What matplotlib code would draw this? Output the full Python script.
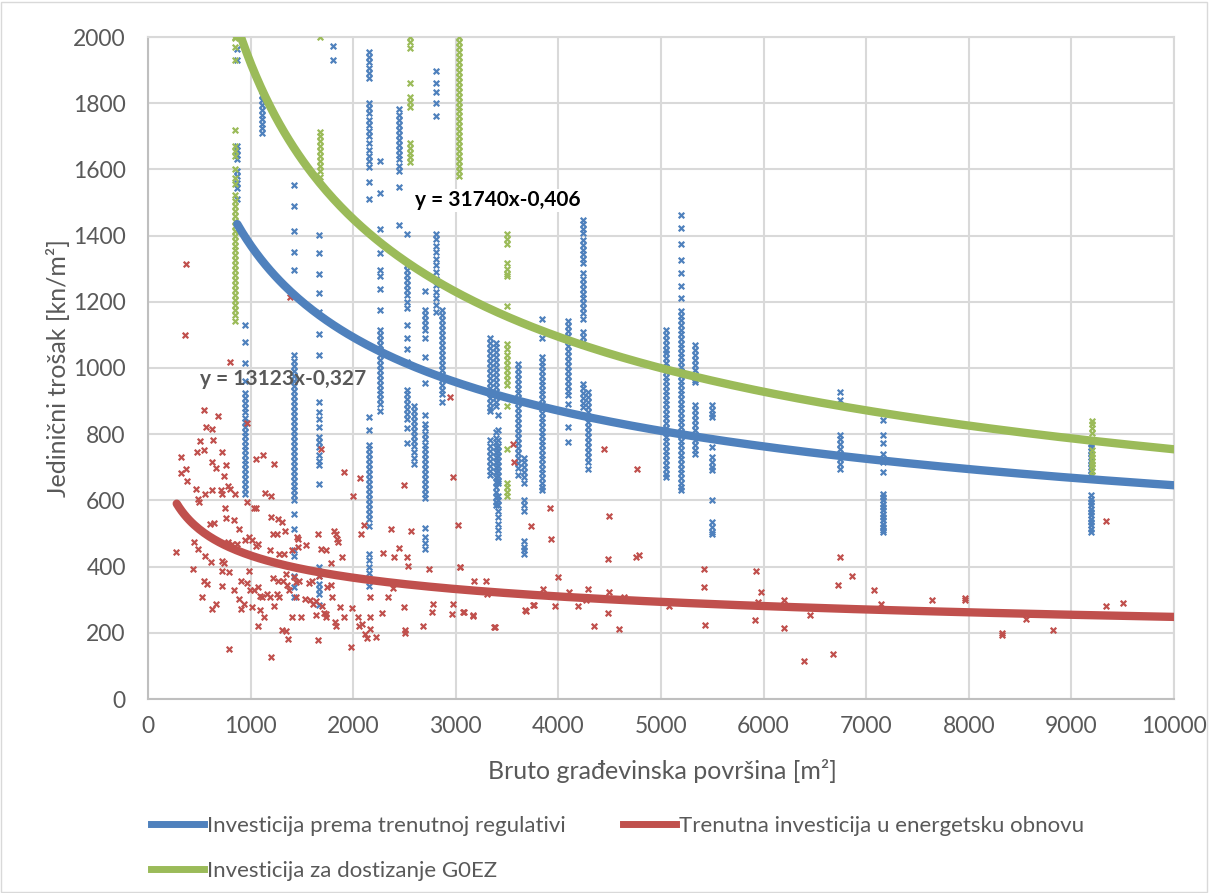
import numpy as np
import matplotlib
matplotlib.use("Agg")
import matplotlib.pyplot as plt
from matplotlib.lines import Line2D
from matplotlib.patches import Rectangle

plt.rcParams['font.family'] = ['Lato', 'DejaVu Sans']

# --- data ---
# blue: "Investicija prema trenutnoj regulativi" -> vertical columns (x, list of y)
blue_cols = [
    (870, [1964, 1932, 1671, 1660, 1645, 1632, 1594, 1580, 1560, 1545, 1510]),
    (945, [1129, 1080, 1016, 961, 923, 910, 895, 880, 866, 850, 838, 822, 808, 795, 780, 765,
           752, 738, 722, 710, 695, 680, 665, 650, 635, 619]),
    (1110, [1826, 1810, 1795, 1780, 1765, 1752, 1738, 1724, 1710]),
    (1420, [1552, 1490, 1413, 1351, 1297, 1039, 1020, 1005, 990, 975, 960, 945, 930, 915, 900,
            885, 870, 855, 840, 825, 810, 795, 780, 765, 750, 735, 720, 705, 690, 675, 660, 645,
            630, 615, 600, 559, 514, 449, 433, 373, 338, 307]),
    (1670, [1403, 1348, 1284, 1226, 1168, 1103, 1039, 897, 867, 845, 822, 791, 776, 761, 736,
            720, 706, 650, 398, 373, 348, 333, 318, 283]),
    (1800, [1974, 1932]),
    (2154, [1955, 1940, 1925, 1905, 1890, 1877, 1800, 1785, 1770, 1750, 1735, 1715, 1700, 1680,
            1660, 1640, 1625, 1606, 1561, 1510, 852, 813, 768, 755, 740, 725, 710, 695, 680, 665,
            650, 635, 620, 605, 590, 575, 560, 545, 523, 439, 420, 400, 380, 360, 342]),
    (2260, [1626, 1529, 1419, 1348, 1297, 1277, 1239, 1174, 1116, 1100, 1085, 1070, 1055, 1040,
            1025, 1010, 995, 980, 965, 950, 935, 920, 905, 890, 871]),
    (2446, [1781, 1765, 1750, 1735, 1720, 1705, 1690, 1675, 1660, 1645, 1630, 1610, 1594, 1548,
            1432]),
    (2524, [1406, 1310, 1295, 1280, 1265, 1250, 1235, 1220, 1200, 1181, 1129, 1090, 1058, 1019,
            935, 920, 905, 890, 875, 860, 845, 819, 774]),
    (2590, [884, 870, 855, 840, 825, 810, 795, 780, 765, 745, 729, 711]),
    (2695, [1232, 1174, 1160, 1145, 1130, 1115, 1090, 1032, 955, 858, 832, 819, 800, 785, 768,
            755, 740, 725, 710, 695, 680, 665, 650, 635, 620, 606, 516, 490, 471, 452]),
    (2807, [1897, 1860, 1835, 1800, 1761, 1406, 1390, 1370, 1350, 1330, 1310, 1290, 1270, 1250,
            1230, 1210, 1190, 1168]),
    (2870, [1174, 1160, 1145, 1130, 1115, 1100, 1085, 1070, 1055, 1040, 1025, 1010, 995, 980,
            965, 950, 935, 920, 897]),
    (3333, [1090, 1075, 1060, 1045, 1030, 1015, 1000, 985, 970, 955, 940, 925, 910, 895, 880,
            871, 781, 765, 750, 735, 720, 705, 690, 677]),
    (3392, [1077, 1062, 1047, 1032, 1017, 1002, 987, 972, 957, 942, 927, 912, 897, 884, 806,
            790, 775, 760, 745, 730, 715, 700, 685, 670, 655, 640, 625, 610, 595, 587]),
    (3415, [858, 813, 781, 765, 750, 735, 720, 705, 690, 675, 660, 652, 613, 600, 587, 568, 550,
            530, 510, 490]),
    (3606, [1013, 998, 983, 968, 953, 938, 923, 908, 893, 878, 863, 848, 833, 818, 803, 788,
            773, 758, 743, 728, 713, 698, 677]),
    (3665, [729, 715, 700, 685, 670, 652, 600, 585, 568, 477, 460, 450, 439]),
    (3845, [1148, 1090, 1032, 1018, 1005, 990, 976, 962, 948, 934, 920, 906, 892, 878, 864,
            850, 836, 822, 808, 794, 780, 766, 752, 738, 724, 710, 696, 682, 668, 654, 640, 632]),
    (4098, [1142, 1127, 1112, 1097, 1082, 1067, 1052, 1037, 1022, 1007, 992, 977, 962, 947,
            932, 917, 892, 822, 777]),
    (4240, [1447, 1435, 1420, 1407, 1387, 1372, 1358, 1344, 1330, 1316, 1286, 1270, 1255, 1240,
            1225, 1210, 1195, 1180, 1165, 1148, 1109, 1095, 1080, 1068, 953, 940, 925, 910, 895,
            882]),
    (4286, [927, 912, 897, 882, 867, 852, 837, 822, 807, 792, 777, 762, 747, 732, 717, 696]),
    (5050, [1115, 1100, 1085, 1070, 1055, 1045, 1030, 1016, 1002, 988, 974, 960, 946, 932, 918,
            904, 890, 876, 862, 848, 834, 820, 806, 792, 778, 764, 750, 736, 722, 708, 694, 680,
            671]),
    (5195, [1462, 1422, 1376, 1325, 1286, 1248, 1210, 1172, 1158, 1144, 1130, 1116, 1102, 1088,
            1074, 1060, 1046, 1032, 1018, 1004, 990, 976, 962, 948, 934, 920, 906, 892, 878, 864,
            850, 836, 822, 808, 794, 780, 766, 752, 738, 724, 710, 696, 682, 668, 654, 640, 630]),
    (5330, [1068, 1055, 1040, 1025, 1010, 995, 980, 965, 958, 887, 872, 857, 842, 827, 812, 797,
            782, 767, 752, 741]),
    (5500, [887, 872, 860, 852, 761, 731, 716, 700, 691, 600, 535, 520, 505, 499]),
    (6741, [927, 902, 797, 785, 770, 755, 740, 725, 710, 696]),
    (7164, [842, 797, 772, 741, 716, 686, 620, 610, 600, 590, 580, 570, 560, 550, 540, 530,
            520, 510, 504]),
    (9188, [771, 760, 750, 740, 730, 720, 710, 700, 690, 681, 615, 605, 595, 585, 575, 565,
            555, 545, 535, 525, 515, 504]),
]

# green: "Investicija za dostizanje G0EZ"
green_cols = [
    (845, [2000, 1996, 1970, 1932, 1719, 1671, 1655, 1639, 1600, 1574, 1555, 1523, 1505, 1490,
           1475, 1460, 1445, 1430, 1415, 1400, 1385, 1370, 1355, 1340, 1325, 1310, 1295, 1280,
           1265, 1250, 1235, 1220, 1205, 1190, 1175, 1160, 1142]),
    (1676, [2000, 1713, 1700, 1685, 1670, 1655, 1640, 1625, 1610, 1595, 1577]),
    (2555, [2000, 1985, 1967, 1861, 1819, 1805, 1789, 1680, 1665, 1650, 1636, 1622]),
    (3030, [2000, 1985, 1970, 1955, 1940, 1925, 1910, 1895, 1880, 1865, 1850, 1835, 1820, 1805,
            1790, 1775, 1760, 1745, 1730, 1715, 1700, 1685, 1670, 1655, 1640, 1625, 1610, 1595,
            1581]),
    (3500, [1406, 1390, 1374, 1316, 1300, 1285, 1277, 1187, 1071, 1056, 1040, 1025, 1010, 995,
            980, 965, 948, 884, 755, 652, 640, 626, 613]),
    (9200, [841, 830, 820, 805, 751, 740, 730, 720, 710, 700, 690, 676]),
]

# red: "Trenutna investicija u energetsku obnovu" (scattered points)
red_x = [795, 547, 681, 967, 570, 619, 502, 632, 482, 541, 723, 319, 1055, 1124, 619, 664, 756,
         319, 371, 1228, 736, 378, 1909, 2071, 2970, 2498, 469, 560, 619, 710, 775, 795, 847,
         723, 485, 498, 961, 1140, 1199, 2000, 749, 1032, 1055, 606, 645, 765, 840, 1199, 1270,
         1306, 2104, 2368, 2560, 3026, 1218, 1254, 1335, 1453, 1459, 1655, 1817, 1830, 1843,
         1856, 2075, 277, 449, 489, 560, 782, 821, 863, 945, 1016, 1068, 1049, 1192, 1277, 1329,
         1400, 1466, 1537, 1684, 1733, 1782, 1889, 2293, 2394, 2449, 2524, 2534, 2742, 3042,
         3179, 440, 544, 576, 616, 717, 739, 788, 722, 834, 524, 658, 622, 905, 935, 964, 997,
         1032, 1068, 1088, 1114, 1189, 1231, 1218, 1270, 1257, 1316, 1355, 1075, 1127, 1088,
         1303, 1348, 1361, 1400, 1492, 1420, 1440, 1472, 1570, 1602, 1668, 1531, 1576, 1609,
         1635, 1694, 1720, 1733, 1635, 1655, 1749, 1782, 1791, 1739, 1824, 1830, 1870, 1915,
         1993, 1980, 2045, 2058, 2084, 2117, 2137, 2163, 2163, 2221, 2163, 2277, 2339, 2492,
         2505, 2505, 2684, 2775, 2768, 2961, 2970, 3075, 3166, 2384, 3381, 3303, 788, 1195,
         3680, 3759, 886, 984, 902, 984, 723, 886, 1016, 1163, 1342, 1374, 1440, 1277, 373, 363,
         1384, 1686, 2943, 3555, 3571, 3045, 3077, 3165, 3295, 3376, 3678, 3750, 3737, 3919,
         3928, 3993, 3854, 3971, 4101, 4189, 4286, 4270, 4351, 4449, 4498, 4488, 4498, 4485,
         4595, 4764, 4758, 4781, 4644, 5076, 5418, 5418, 5424, 5928, 5977, 5945, 5919, 6198,
         6201, 6393, 6455, 6676, 6725, 6745, 6862, 7073, 7141, 7645, 7961, 7961, 8327, 8327,
         8556, 8824, 9340, 9333, 9503]
red_y = [1018, 872, 854, 834, 822, 816, 779, 783, 746, 751, 746, 731, 726, 738, 716, 698, 706,
         683, 696, 709, 675, 658, 685, 667, 670, 647, 633, 620, 631, 630, 644, 635, 619, 620,
         603, 594, 594, 623, 614, 612, 578, 577, 577, 529, 533, 547, 541, 551, 544, 534, 527,
         513, 509, 527, 499, 499, 507, 489, 484, 499, 509, 499, 484, 474, 499, 444, 474, 454,
         433, 474, 467, 469, 481, 479, 469, 462, 449, 438, 438, 449, 459, 464, 452, 451, 410,
         430, 441, 430, 457, 428, 403, 393, 400, 358, 393, 358, 346, 413, 416, 410, 383, 341,
         330, 307, 287, 273, 272, 287, 350, 330, 330, 338, 312, 309, 309, 282, 365, 358, 316,
         358, 345, 222, 247, 269, 209, 205, 181, 249, 249, 368, 353, 356, 350, 358, 373, 302,
         299, 287, 297, 280, 259, 257, 254, 179, 338, 343, 307, 247, 232, 222, 277, 247, 274,
         158, 247, 222, 227, 197, 184, 247, 210, 186, 307, 259, 307, 277, 207, 200, 220, 287,
         262, 257, 287, 262, 252, 336, 217, 318, 151, 126, 267, 285, 514, 489, 358, 388, 388,
         302, 277, 318, 378, 328, 307, 307, 1314, 1101, 1215, 755, 912, 771, 716, 400, 262, 254,
         355, 217, 268, 284, 523, 577, 482, 369, 332, 282, 324, 280, 331, 299, 221, 756, 553,
         422, 324, 260, 212, 694, 429, 434, 309, 281, 393, 337, 224, 386, 324, 293, 240, 299,
         214, 115, 254, 135, 343, 429, 373, 329, 288, 299, 306, 300, 193, 200, 243, 209, 538,
         281, 291]

# trendline equations shown on the chart (y = a * x^b)
blue_a, blue_b = 13123, -0.327
green_a, green_b = 31740, -0.406
red_a, red_b = 2313, -0.2424

labels = ["Investicija prema trenutnoj regulativi",
          "Trenutna investicija u energetsku obnovu",
          "Investicija za dostizanje G0EZ"]

c_blue = "#4F81BD"
c_red = "#C0504D"
c_green = "#9BBB59"
txt_c = "#595959"
grid_c = "#D9D9D9"


def flatten(cols):
    xs, ys = [], []
    for x, yl in cols:
        xs += [x] * len(yl)
        ys += yl
    return xs, ys


bx, by = flatten(blue_cols)
gx, gy = flatten(green_cols)

fig = plt.figure(figsize=(12.09, 8.93), dpi=100)
ax = fig.add_axes([148 / 1209, 1 - 699 / 893, 1026 / 1209, 662 / 893])

mk = dict(marker="x", s=16, linewidths=1.6)
ax.scatter(bx, by, color=c_blue, zorder=3, **mk)
ax.scatter(red_x, red_y, color=c_red, zorder=3, **mk)
ax.scatter(gx, gy, color=c_green, zorder=3, **mk)

lw = 6
t1 = np.linspace(870, 10000, 400)
ax.plot(t1, blue_a * t1 ** blue_b, color=c_blue, lw=lw, zorder=4, solid_capstyle="round")
t2 = np.linspace(280, 10000, 400)
ax.plot(t2, red_a * t2 ** red_b, color=c_red, lw=lw, zorder=4, solid_capstyle="round")
ax.plot(t1, green_a * t1 ** green_b, color=c_green, lw=lw, zorder=4, solid_capstyle="round")

ax.text(2600, 1507, "y = 31740x-0,406", fontsize=15, fontweight="bold", color="black",
        va="center", ha="left", zorder=5,
        bbox=dict(facecolor="white", edgecolor="none", pad=1))
ax.text(510, 967, "y = 13123x-0,327", fontsize=15, fontweight="bold", color=txt_c,
        va="center", ha="left", zorder=5)

ax.set_xlim(0, 10000)
ax.set_ylim(0, 2000)
ax.set_xticks(np.arange(0, 10001, 1000))
ax.set_yticks(np.arange(0, 2001, 200))
ax.tick_params(length=0, labelsize=16.5, colors=txt_c)
ax.tick_params(axis="y", pad=16)
ax.tick_params(axis="x", pad=12)
ax.grid(True, color=grid_c, lw=1.5, zorder=0)
ax.set_axisbelow(True)
for s in ax.spines.values():
    s.set_color(grid_c)
    s.set_linewidth(1.5)
ax.spines["left"].set_color("#BFBFBF")
ax.spines["bottom"].set_color("#BFBFBF")

ax.set_ylabel("Jedinični trošak [kn/m²]", fontsize=18, color=txt_c, labelpad=2)
fig.text(662 / 1209, 1 - 771 / 893, "Bruto građevinska površina [m²]", fontsize=18,
         color=txt_c, ha="center", va="center")

handles = [Line2D([], [], color=c_blue, lw=5),
           Line2D([], [], color=c_green, lw=5),
           Line2D([], [], color=c_red, lw=5)]
fig.legend(handles, [labels[0], labels[2], labels[1]], ncol=2, loc="upper left",
           bbox_to_anchor=(131 / 1209, 1 - 796 / 893), frameon=False, fontsize=16,
           labelcolor=txt_c, handlelength=2.4, handletextpad=0.1, columnspacing=2.6,
           labelspacing=1.12)

fig.add_artist(Rectangle((0.001, 0.001), 0.997, 0.997, transform=fig.transFigure,
                         fill=False, edgecolor=grid_c, lw=1))

fig.savefig("out.png", dpi=100)
